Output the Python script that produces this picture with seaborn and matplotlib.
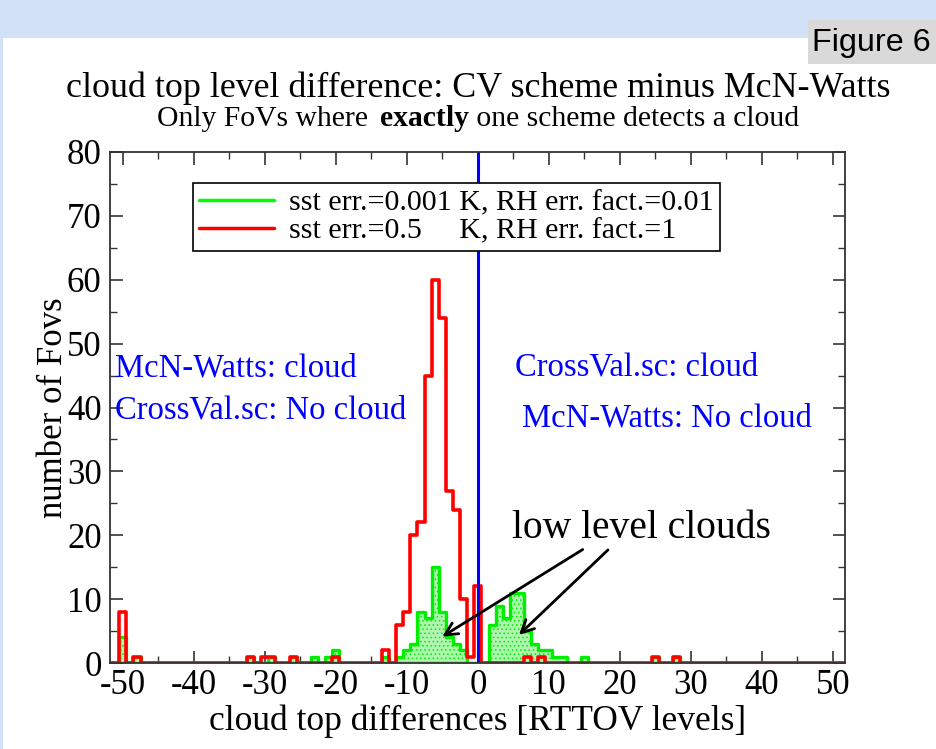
import numpy as np
import pandas as pd
import matplotlib
matplotlib.use("Agg")
import matplotlib.pyplot as plt
import seaborn as sns
from matplotlib.lines import Line2D
from matplotlib.patches import Rectangle

# ---------------- data ----------------
all_levels = list(range(-52, 53))

red_levels = [-50, -48, -32, -30, -29, -26, -20, -13, -11, -10, -9, -8, -7, -6,
              -5, -4, -3, -2, -1, 0, 7, 9, 25, 28]
red_counts = [8, 1, 1, 1, 1, 1, 1, 2, 6, 8, 20, 22, 45, 60,
              54, 27, 24, 10, 1, 12, 1, 1, 1, 1]

green_levels = [-50, -48, -32, -29, -26, -23, -21, -20, -13, -11, -10, -9, -8, -7,
                -6, -5, -4, -3, -2, 2, 3, 4, 5, 6, 7, 8, 9, 10, 11, 12, 15, 25, 28]
green_counts = [4, 1, 1, 1, 1, 1, 1, 2, 1, 1, 2, 3, 8, 7,
                15, 8, 4, 3, 2, 6, 9, 7, 11, 11, 5, 3, 2, 2, 1, 1, 1, 1, 1]

legend_labels = ["sst err.=0.001 K, RH err. fact.=0.01",
                 "sst err.=0.5     K, RH err. fact.=1"]
x_ticks = [-50, -40, -30, -20, -10, 0, 10, 20, 30, 40, 50]
y_ticks = [0, 10, 20, 30, 40, 50, 60, 70, 80]


def full_table(levels, counts):
    d = dict(zip(levels, counts))
    return pd.DataFrame({"level": all_levels,
                         "count": [d.get(l, 0) for l in all_levels]})


red_df = full_table(red_levels, red_counts)
green_df = full_table(green_levels, green_counts)

# ---------------- style ----------------
sns.set_style("ticks")
plt.rcParams["font.family"] = ["Liberation Serif", "DejaVu Serif"]
plt.rcParams["hatch.linewidth"] = 0.6
plt.rcParams["axes.unicode_minus"] = False
plt.rcParams["text.color"] = "black"
plt.rcParams["axes.labelcolor"] = "black"

W, H = 937, 749
fig = plt.figure(figsize=(W / 100, H / 100), dpi=100)
fig.patch.set_facecolor("white")

# top light-blue band and left strip
fig.add_artist(Rectangle((0, 1 - 38 / H), 1, 38 / H, transform=fig.transFigure,
                         facecolor="#d3e1f6", edgecolor="none", zorder=0))
fig.add_artist(Rectangle((0, 0), 3 / W, 1, transform=fig.transFigure,
                         facecolor="#d3e1f6", edgecolor="none", zorder=0))
# "Figure 6" grey box
fig.add_artist(Rectangle((808 / W, 1 - 64 / H), 129 / W, 44 / H,
                         transform=fig.transFigure, facecolor="#d9d9d9",
                         edgecolor="none", zorder=1))
fig.text(812 / W, 1 - 43 / H, "Figure 6", family=["Liberation Sans", "DejaVu Sans"],
         fontsize=23.3, va="center", ha="left", zorder=2, color="black")

ax = fig.add_axes([110 / W, 1 - 663 / H, 735 / W, 511 / H])

# green histogram (filled)
sns.histplot(data=green_df, x="level", weights="count", discrete=True,
             element="step", fill=True, ax=ax,
             facecolor="#aef5ae", edgecolor="#00ee00", linewidth=2.4,
             hatch="....", zorder=2)
# red histogram (outline)
sns.histplot(data=red_df, x="level", weights="count", discrete=True,
             element="step", fill=False, ax=ax,
             color="#ff0000", linewidth=2.6, zorder=3)

ax.axvline(0, color="#0000ff", linewidth=2.2, zorder=4)

ax.set_xlim(-51.8, 51.7)
ax.set_ylim(0, 80)
ax.set_xticks(x_ticks)
ax.set_yticks(y_ticks)
ax.set_xticks(np.arange(-50, 51, 5), minor=True)
ax.set_yticks(np.arange(0, 81, 5), minor=True)
ax.tick_params(axis="both", which="major", direction="in", length=9, width=1.2,
               top=True, right=True, labelsize=25, colors="#333333",
               labelcolor="black", pad=4)
ax.tick_params(axis="y", which="major", pad=6)
ax.tick_params(axis="both", which="minor", direction="in", length=5, width=1.0,
               top=True, right=True, colors="#333333")
for s in ax.spines.values():
    s.set_linewidth(1.3)
    s.set_color("#333333")
    s.set_zorder(5)

ax.set_xlabel("cloud top differences [RTTOV levels]", fontsize=25.5, labelpad=2,
              color="black")
ax.set_ylabel("number of Fovs", fontsize=25, labelpad=-2, color="black")

# titles
fig.text(478 / W, 1 - 88 / H, "cloud top level difference: CV scheme minus McN-Watts",
         ha="center", va="center", fontsize=25.8, color="black")

renderer = fig.canvas.get_renderer()
x_px = 157
sub_y = 1 - 119 / H
parts = [("Only FoVs where ", "normal"), ("exactly", "bold"),
         (" one scheme detects a cloud", "normal")]
for txt, wt in parts:
    t = fig.text(x_px / W, sub_y, txt, ha="left", va="center", fontsize=21.3,
                 fontweight=wt, color="black")
    bb = t.get_window_extent(renderer=renderer)
    x_px += bb.width + (5 if txt.startswith("Only") else 0)

# legend
handles = [Line2D([], [], color="#00ff00", linewidth=2.5),
           Line2D([], [], color="#ff0000", linewidth=2.5)]
leg = ax.legend(handles, legend_labels, loc="upper left",
                bbox_to_anchor=(83 / 735, (663 - 183) / 511), fontsize=21.6,
                frameon=True, fancybox=False, framealpha=1, edgecolor="black",
                handlelength=2.5, handletextpad=0.5, borderpad=0.2,
                labelspacing=0.05, borderaxespad=0, labelcolor="black")
leg.get_frame().set_linewidth(1.2)
leg.set_zorder(6)

# annotations
blue = "#0000ff"
ax.text(-51.1, 46.2, "McN-Watts: cloud", color=blue, fontsize=23.5, va="center", ha="left")
ax.text(-51.1, 39.6, "CrossVal.sc: No cloud", color=blue, fontsize=23.5, va="center", ha="left")
ax.text(5.2, 46.3, "CrossVal.sc: cloud", color=blue, fontsize=23.5, va="center", ha="left")
ax.text(6.2, 38.3, "McN-Watts: No cloud", color=blue, fontsize=23.5, va="center", ha="left")
ax.text(4.8, 21.1, "low level clouds", color="black", fontsize=28.5, va="center", ha="left")

arrow_kw = dict(arrowstyle="->,head_length=0.9,head_width=0.45", color="black", lw=2)
ax.annotate("", xy=(-5.35, 3.9), xytext=(15.1, 18.0), arrowprops=arrow_kw, zorder=7)
ax.annotate("", xy=(5.5, 4.1), xytext=(18.6, 18.0), arrowprops=arrow_kw, zorder=7)

fig.savefig("out.png", dpi=100, facecolor="white")
